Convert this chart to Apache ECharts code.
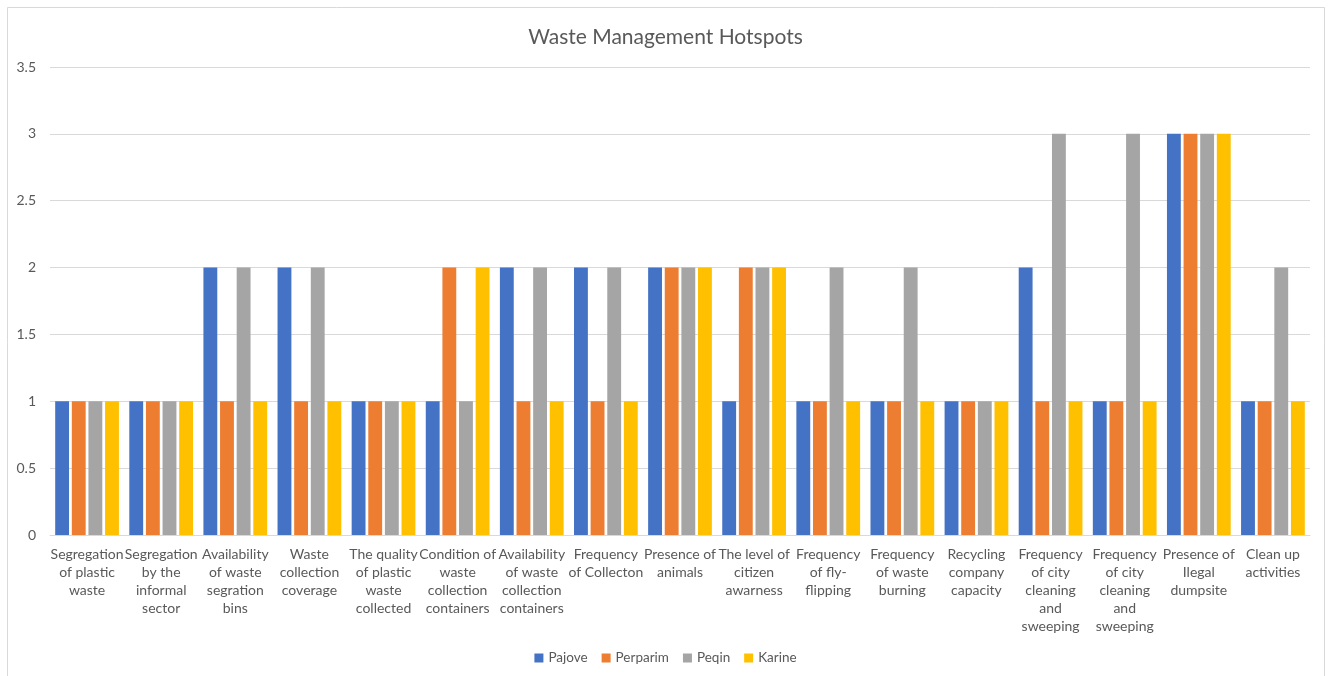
<!DOCTYPE html>
<html><head><meta charset="utf-8">
<script src="https://cdn.jsdelivr.net/npm/echarts@6/dist/echarts.min.js"></script>
<style>html,body{margin:0;padding:0;background:#fff}#c{width:1331px;height:676px}</style>
</head><body><div id="c"></div>
<script>
const categories = [
  "Segregation\nof plastic\nwaste",
  "Segregation\nby the\ninformal\nsector",
  "Availability\nof waste\nsegration\nbins",
  "Waste\ncollection\ncoverage",
  "The quality\nof plastic\nwaste\ncollected",
  "Condition of\nwaste\ncollection\ncontainers",
  "Availability\nof waste\ncollection\ncontainers",
  "Frequency\nof Collecton",
  "Presence of\nanimals",
  "The level of\ncitizen\nawarness",
  "Frequency\nof fly-\nflipping",
  "Frequency\nof waste\nburning",
  "Recycling\ncompany\ncapacity",
  "Frequency\nof city\ncleaning\nand\nsweeping",
  "Frequency\nof city\ncleaning\nand\nsweeping",
  "Presence of\nIlegal\ndumpsite",
  "Clean up\nactivities"
];
const pajove   = [1,1,2,2,1,1,2,2,2,1,1,1,1,2,1,3,1];
const perparim = [1,1,1,1,1,2,1,1,2,2,1,1,1,1,1,3,1];
const peqin    = [1,1,2,2,1,1,2,2,2,2,2,2,1,3,3,3,2];
const karine   = [1,1,1,1,1,2,1,1,2,2,1,1,1,1,1,3,1];
const yTicks = [0,0.5,1,1.5,2,2.5,3,3.5];

const font = "Lato, sans-serif";
const chart = echarts.init(document.getElementById('c'));
const mk = (name, data, color) => ({
  name, type: 'bar', data, barGap: '20%', barCategoryGap: '14%',
  itemStyle: { color }
});
chart.setOption({
  animation: false,
  textStyle: { fontFamily: font },
  graphic: [{ type: 'rect', shape: { x: 7.5, y: 7.5, width: 1317, height: 680 },
    style: { fill: 'none', stroke: '#d9d9d9', lineWidth: 1 }, silent: true }],
  title: { text: 'Waste Management Hotspots', left: 'center', top: 22,
    textStyle: { fontSize: 21, fontWeight: 'normal', color: '#595959', fontFamily: font } },
  legend: { bottom: 6, left: 'center', itemWidth: 9, itemHeight: 9, itemGap: 14,
    icon: 'rect', textStyle: { fontSize: 13.5, color: '#595959', fontFamily: font } },
  grid: { left: 50, right: 21, top: 67, bottom: 141, containLabel: false },
  xAxis: { type: 'category', data: categories,
    axisLine: { lineStyle: { color: '#d9d9d9' } }, axisTick: { show: false },
    axisLabel: { interval: 0, color: '#595959', fontSize: 14, lineHeight: 18, margin: 10,
      fontFamily: font, verticalAlign: 'top' } },
  yAxis: { type: 'value', min: 0, max: 3.5, interval: 0.5,
    axisLine: { show: false }, axisTick: { show: false },
    splitLine: { lineStyle: { color: '#d9d9d9' } },
    axisLabel: { color: '#595959', fontSize: 14, margin: 14, fontFamily: font,
      formatter: v => yTicks.includes(v) ? String(v) : '' } },
  series: [
    mk('Pajove', pajove, '#4472c4'),
    mk('Perparim', perparim, '#ed7d31'),
    mk('Peqin', peqin, '#a5a5a5'),
    mk('Karine', karine, '#ffc000')
  ]
});
</script></body></html>
